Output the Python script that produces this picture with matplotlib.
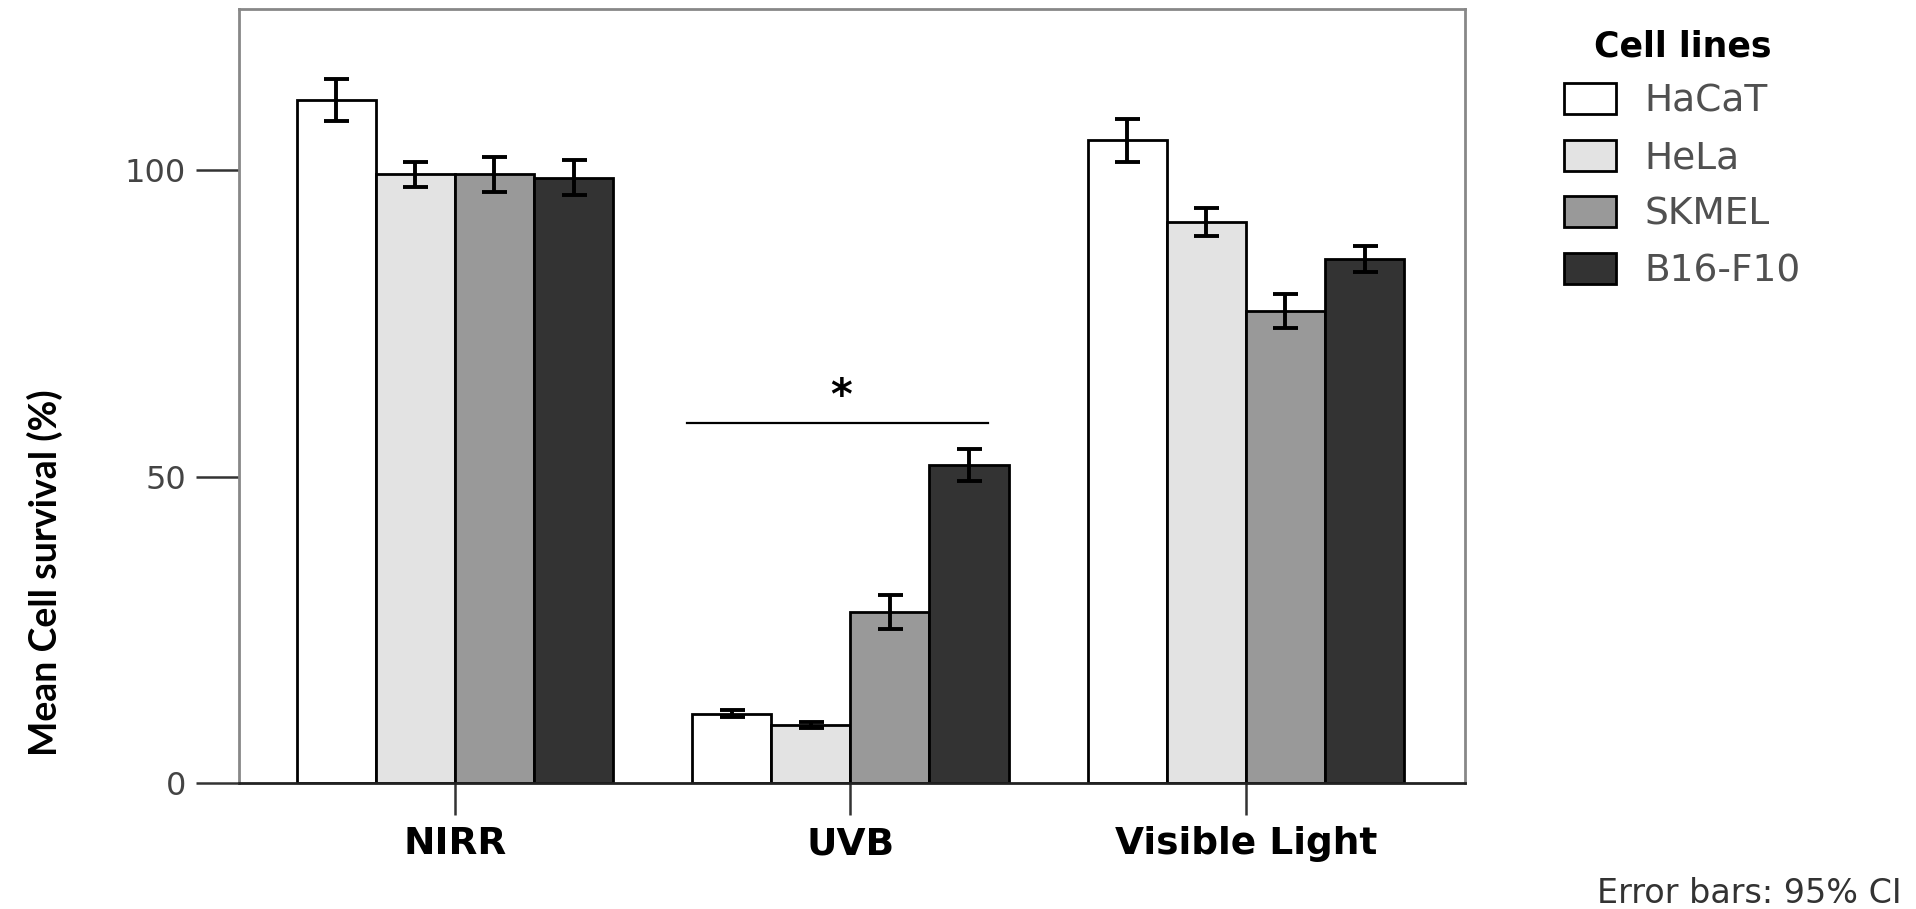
import numpy as np
import matplotlib
matplotlib.use("Agg")
import matplotlib.pyplot as plt

# datos
grupos = ["NIRR", "UVB", "Visible Light"]
lineas = ["HaCaT", "HeLa", "SKMEL", "B16-F10"]
colores = ["#ffffff", "#e3e3e3", "#999999", "#333333"]

media_hacat = [111.4, 11.3, 104.9]
media_hela = [99.3, 9.5, 91.5]
media_skmel = [99.3, 27.9, 77.0]
media_b16 = [98.8, 51.9, 85.5]

ic_hacat = [3.4, 0.6, 3.5]
ic_hela = [2.0, 0.5, 2.3]
ic_skmel = [2.9, 2.8, 2.8]
ic_b16 = [2.8, 2.6, 2.1]

medias = [media_hacat, media_hela, media_skmel, media_b16]
ics = [ic_hacat, ic_hela, ic_skmel, ic_b16]

yticks = [0, 50, 100]

fig = plt.figure(figsize=(19.16, 9.09), dpi=100)
ax = fig.add_axes([0.1247, 0.1386, 0.6399, 0.8515])

x = np.arange(len(grupos))
ancho = 0.2
barras = []
for i in range(len(lineas)):
    pos = x + (i - 1.5) * ancho
    b = ax.bar(pos, medias[i], ancho, color=colores[i], edgecolor="black",
               linewidth=2.0, zorder=2, label=lineas[i])
    ax.errorbar(pos, medias[i], yerr=ics[i], fmt="none", ecolor="black",
                elinewidth=2.8, capsize=9, capthick=2.8, zorder=3)
    barras.append(b)

# linea de significancia en UVB
ax.plot([0.588, 1.349], [58.7, 58.7], color="black", linewidth=1.6, zorder=3)
ax.text(0.977, 61.0, "*", fontsize=30, ha="center", va="baseline",
        family="DejaVu Sans", fontweight="bold")

ax.set_xlim(-0.546, 2.554)
ax.set_ylim(0, 126.3)
ax.set_xticks(x)
ax.set_xticklabels(grupos, fontsize=27, fontweight="bold", family="DejaVu Sans")
ax.set_yticks(yticks)
ax.set_yticklabels([str(v) for v in yticks], fontsize=23, color="#444444",
                   family="DejaVu Sans")
ax.tick_params(axis="y", length=31, width=1.8, color="#333333", pad=7)
ax.tick_params(axis="x", length=23, width=1.8, color="#333333", pad=8)

for s in ["top", "right", "left"]:
    ax.spines[s].set_color("#888888")
    ax.spines[s].set_linewidth(2)
ax.spines["bottom"].set_color("#222222")
ax.spines["bottom"].set_linewidth(2)

fig.text(0.0235, 0.37, "Mean Cell survival (%)", rotation=90, fontsize=27,
         fontweight="bold", family="Lato", ha="center", va="center")

leg = fig.legend(handles=barras, labels=lineas, loc="upper left",
                 bbox_to_anchor=(0.8163, 0.968), frameon=False,
                 borderpad=0, borderaxespad=0, fontsize=27,
                 handlelength=1.39, handleheight=0.88, handletextpad=0.75,
                 labelspacing=0.54, title="Cell lines",
                 title_fontproperties={"size": 25, "weight": "bold",
                                       "family": "DejaVu Sans"})
for t in leg.get_texts():
    t.set_color("#505050")

fig.text(0.9927, 0.0066, "Error bars: 95% CI", fontsize=24, color="#333333",
         ha="right", va="baseline", family="DejaVu Sans")

fig.savefig("out.png", dpi=100)
